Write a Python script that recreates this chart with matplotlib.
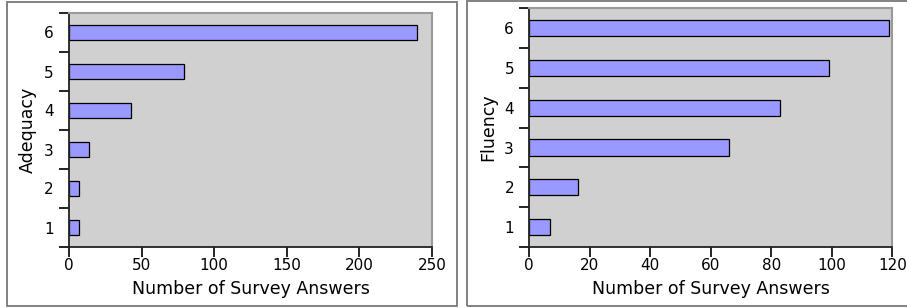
import matplotlib
matplotlib.use("Agg")
import matplotlib.pyplot as plt
from matplotlib.patches import Rectangle

scores = [1, 2, 3, 4, 5, 6]
adequacy = [7, 7, 14, 43, 79, 240]
fluency = [7, 16, 66, 83, 99, 119]

fig = plt.figure(figsize=(9.07, 3.08), dpi=100)

# frames round each panel
for box in [(7/907, 2/308, 450/907, 304/308), (467/907, 2/308, 445/907, 305/308)]:
    fig.add_artist(Rectangle(box[:2], box[2], box[3], transform=fig.transFigure,
                             fill=False, edgecolor='#777777', linewidth=1.3))

ax1 = fig.add_axes([69/907, 1 - 247/308, 363/907, 234/308])
ax2 = fig.add_axes([529.3/907, 1 - 247/308, 363/907, 238.7/308])


def draw(ax, vals, ylab, xmax, xticks):
    ax.set_facecolor('#d0d0d0')
    ax.barh(scores, vals, height=0.41, color='#9999ff', edgecolor='black', linewidth=0.9)
    ax.set_xlim(0, xmax)
    ax.set_ylim(0.5, 6.5)
    ax.set_xticks(xticks)
    ax.set_yticks([s + 0.5 for s in [0] + scores])
    ax.set_yticklabels([])
    ax.set_yticks(scores, minor=True)
    ax.set_yticklabels([str(s) for s in scores], minor=True)
    ax.tick_params(axis='y', which='minor', length=0, pad=11, labelsize=11)
    ax.tick_params(axis='y', which='major', length=7, width=1.2, direction='out')
    ax.tick_params(axis='x', length=7, width=1.2, direction='out', labelsize=11, pad=1)
    for s in ['top', 'right']:
        ax.spines[s].set_color('#999999')
        ax.spines[s].set_linewidth(1.5)
    for s in ['left', 'bottom']:
        ax.spines[s].set_color('#222222')
        ax.spines[s].set_linewidth(1.3)
    ax.set_xlabel('Number of Survey Answers', fontsize=12.5, labelpad=5)
    ax.set_ylabel(ylab, fontsize=12.5, labelpad=5)


draw(ax1, adequacy, 'Adequacy', 250, [0, 50, 100, 150, 200, 250])
draw(ax2, fluency, 'Fluency', 120, [0, 20, 40, 60, 80, 100, 120])

fig.savefig('out.png', dpi=100)
